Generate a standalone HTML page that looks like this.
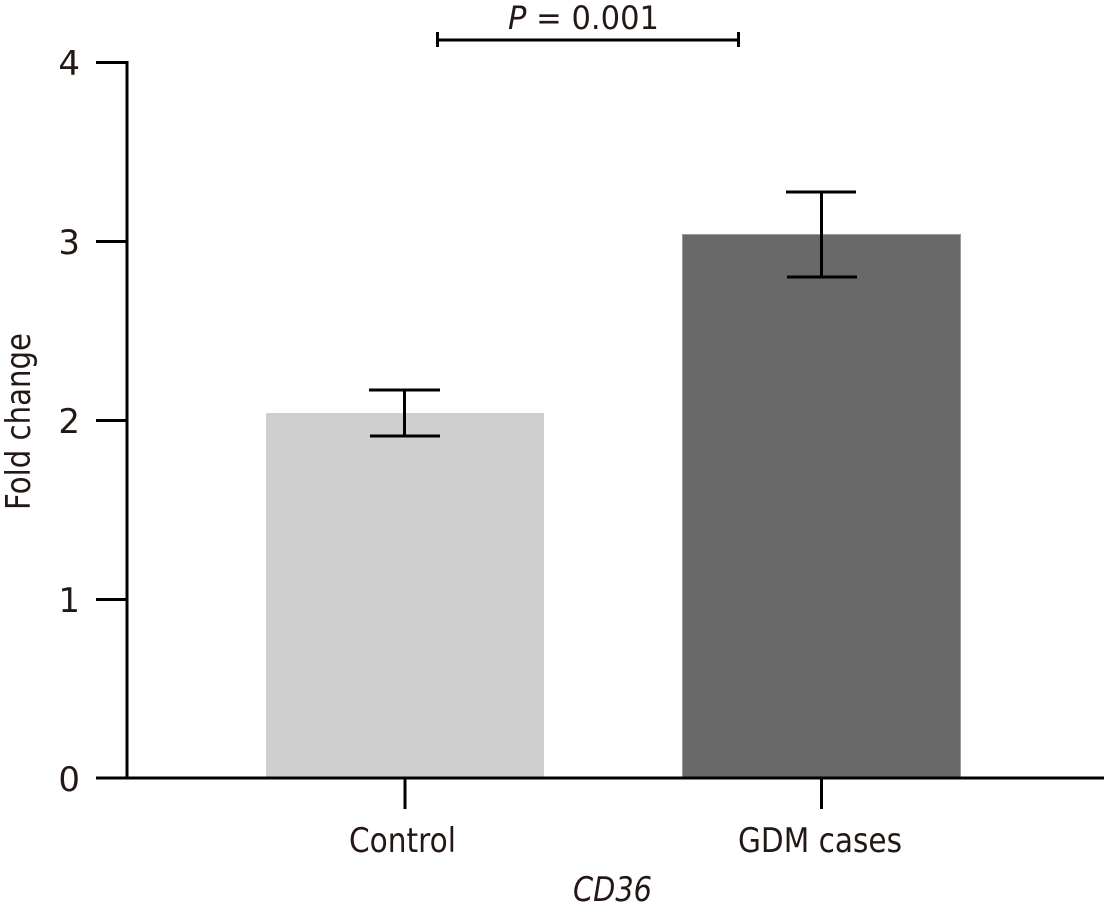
<!DOCTYPE html>
<html>
<head>
<meta charset="utf-8">
<style>
  html, body { margin: 0; padding: 0; background: #ffffff; }
  svg { display: block; }
  text { font-family: "DejaVu Sans", "Liberation Sans", sans-serif; fill: #231815; }
</style>
</head>
<body>
<svg width="1108" height="919" viewBox="0 0 1108 919" xmlns="http://www.w3.org/2000/svg">
  <!-- Bars -->
  <rect x="266" y="413" width="278" height="365" fill="#cfcfcf"/>
  <rect x="682.5" y="234.5" width="278" height="543.5" fill="#696969" stroke="#9a9a9a" stroke-width="1"/>

  <!-- Error bars -->
  <g stroke="#000" stroke-width="3" fill="none">
    <line x1="404.5" y1="390" x2="404.5" y2="436"/>
    <line x1="369" y1="390" x2="440" y2="390"/>
    <line x1="370" y1="436" x2="440" y2="436"/>

    <line x1="821.5" y1="192" x2="821.5" y2="277"/>
    <line x1="786" y1="192" x2="856" y2="192"/>
    <line x1="787" y1="277" x2="857" y2="277"/>
  </g>

  <!-- Axes -->
  <g stroke="#000" stroke-width="3" fill="none" stroke-linecap="butt">
    <line x1="127" y1="61" x2="127" y2="779.5"/>
    <line x1="96" y1="778" x2="1104" y2="778"/>
    <!-- y ticks -->
    <line x1="96" y1="62.5" x2="127" y2="62.5"/>
    <line x1="96" y1="241.5" x2="127" y2="241.5"/>
    <line x1="96" y1="420.5" x2="127" y2="420.5"/>
    <line x1="96" y1="599.5" x2="127" y2="599.5"/>
    <!-- x ticks -->
    <line x1="405" y1="778" x2="405" y2="809"/>
    <line x1="821.5" y1="778" x2="821.5" y2="809"/>
    <!-- significance bracket -->
    <line x1="437" y1="40" x2="739" y2="40"/>
    <line x1="437.5" y1="32" x2="437.5" y2="47"/>
    <line x1="738.5" y1="32" x2="738.5" y2="47"/>
  </g>

  <!-- Y tick labels -->
  <g font-size="34" text-anchor="end">
    <text x="80" y="75">4</text>
    <text x="80" y="254">3</text>
    <text x="80" y="433">2</text>
    <text x="80" y="612">1</text>
    <text x="80" y="791">0</text>
  </g>

  <!-- X labels -->
  <text x="349" y="852" font-size="34" textLength="107" lengthAdjust="spacingAndGlyphs">Control</text>
  <text x="738" y="852" font-size="34" textLength="164" lengthAdjust="spacingAndGlyphs">GDM cases</text>
  <text x="573" y="901" font-size="34" font-style="italic" textLength="79" lengthAdjust="spacingAndGlyphs">CD36</text>

  <!-- Y axis title -->
  <text transform="translate(30,510) rotate(-90)" font-size="34" textLength="177" lengthAdjust="spacingAndGlyphs">Fold change</text>

  <!-- P value -->
  <text x="508" y="29" font-size="32" textLength="151" lengthAdjust="spacingAndGlyphs"><tspan font-style="italic">P</tspan> = 0.001</text>
</svg>
</body>
</html>
